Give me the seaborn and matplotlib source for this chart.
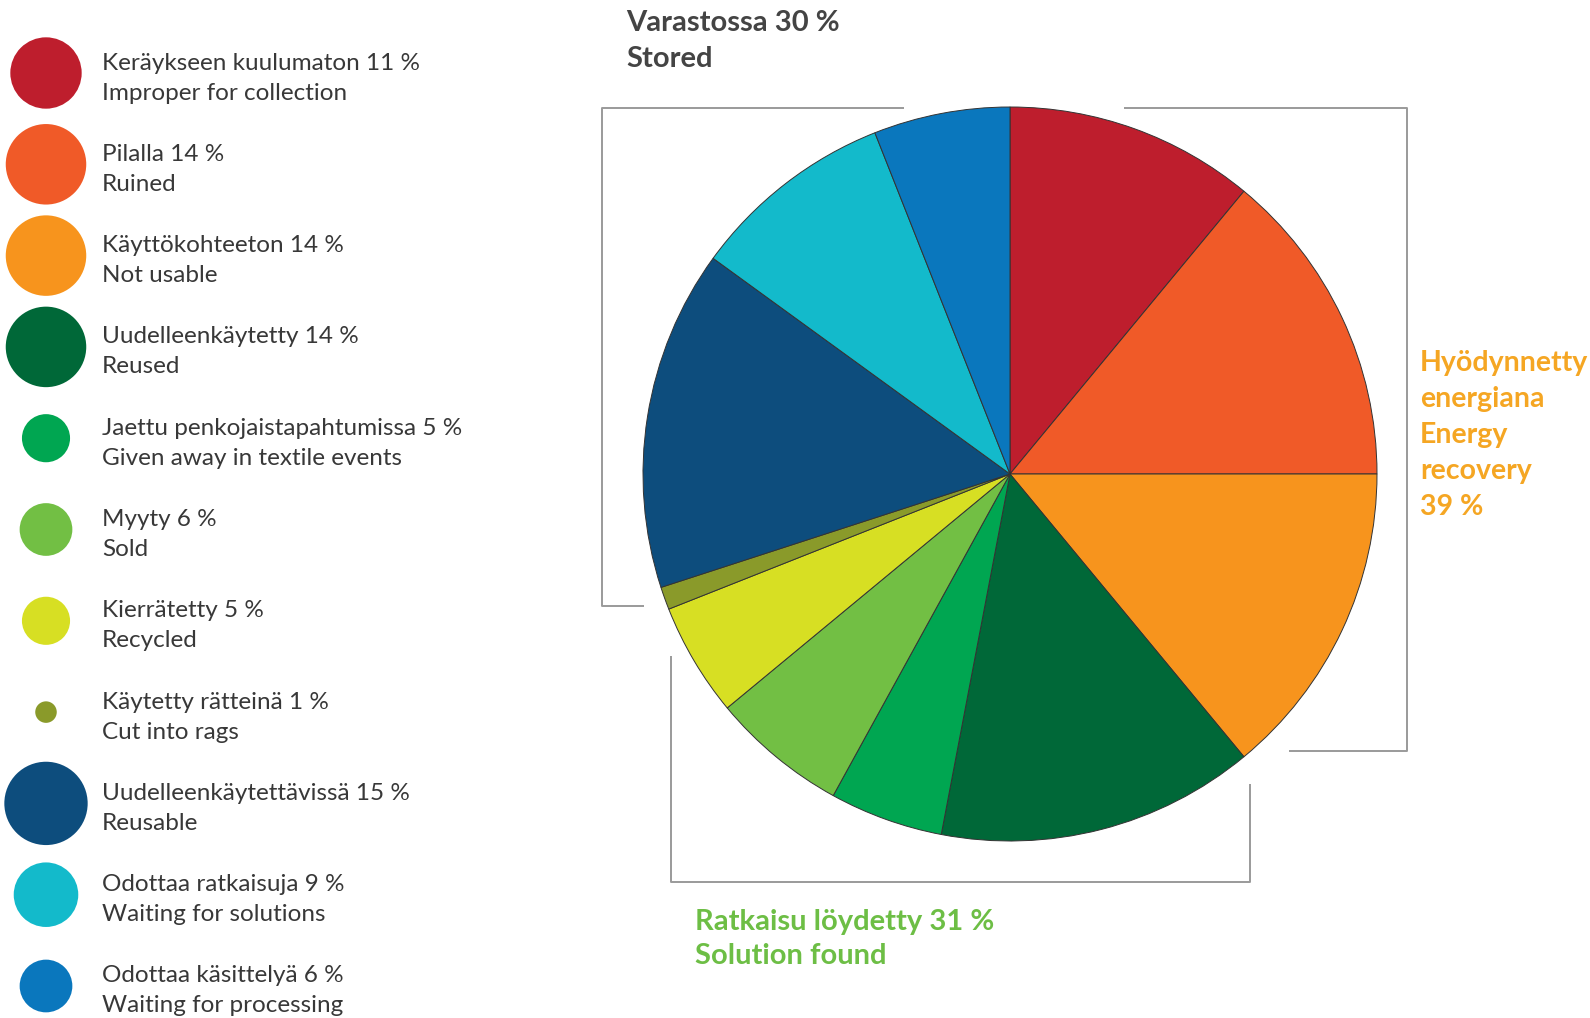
import numpy as np
import pandas as pd
import matplotlib
matplotlib.use("Agg")
import matplotlib.pyplot as plt
import seaborn as sns

# datos
labels_fi = ["Keräykseen kuulumaton", "Pilalla", "Käyttökohteeton", "Uudelleenkäytetty",
             "Jaettu penkojaistapahtumissa", "Myyty", "Kierrätetty", "Käytetty rätteinä",
             "Uudelleenkäytettävissä", "Odottaa ratkaisuja", "Odottaa käsittelyä"]
labels_en = ["Improper for collection", "Ruined", "Not usable", "Reused",
             "Given away in textile events", "Sold", "Recycled", "Cut into rags",
             "Reusable", "Waiting for solutions", "Waiting for processing"]
values = [11, 14, 14, 14, 5, 6, 5, 1, 15, 9, 6]
colors = ["#BE1E2D", "#F05A28", "#F7941D", "#006838", "#00A651", "#72BF44",
          "#D7DF23", "#8A9A2A", "#0D4D7D", "#13BACB", "#0A77BD"]

group_labels = ["Varastossa 30 %\nStored",
                "Hyödynnetty\nenergiana\nEnergy\nrecovery\n39 %",
                "Ratkaisu löydetty 31 %\nSolution found"]
group_colors = ["#444444", "#F5A623", "#6DBE45"]

W, H = 1590, 1018
sns.set_theme(style="white")
plt.rcParams['font.family'] = ['Lato', 'DejaVu Sans']

fig = plt.figure(figsize=(W / 100, H / 100), dpi=100)
ax = fig.add_axes([0, 0, 1, 1])

# piirakka
ax.pie(values, colors=colors, startangle=90, counterclock=False,
       center=(1010, H - 474), radius=367,
       wedgeprops=dict(edgecolor="#333333", linewidth=0.7))

# selite: ympyrät
n = len(values)
row_y = 73 + 91.3 * np.arange(n)
leg = pd.DataFrame({"x": [46] * n, "y": H - row_y, "label": labels_fi, "value": values})
sns.scatterplot(data=leg, x="x", y="y", hue="label", palette=colors, size="value",
                sizes=(240, 3600), size_norm=(1, 15), legend=False, linewidth=0, ax=ax)

txt = "#383838"
for i in range(n):
    ax.text(102, H - (row_y[i] - 10), f"{labels_fi[i]} {values[i]} %", fontsize=17.5,
            color=txt, va="center", ha="left")
    ax.text(102, H - (row_y[i] + 20), labels_en[i], fontsize=17.5,
            color=txt, va="center", ha="left")

# ryhmien hakasulkeet
lc = "#9a9a9a"
lw = 1.4
def line(xs, ys):
    ax.plot(xs, [H - y for y in ys], color=lc, lw=lw, solid_capstyle="butt")

line([904, 602, 602, 644], [107.5, 107.5, 606, 606])
line([1124, 1407, 1407, 1289], [107.5, 107.5, 751, 751])
line([671, 671, 1250, 1250], [656, 882, 882, 784])

# ryhmien otsikot
g1 = group_labels[0].split("\n")
for j, s in enumerate(g1):
    ax.text(626, H - (23 + 36 * j), s, fontsize=21, fontweight="bold",
            color=group_colors[0], va="center", ha="left")
g2 = group_labels[1].split("\n")
for j, s in enumerate(g2):
    ax.text(1420, H - (363 + 36 * j), s, fontsize=20.5, fontweight="bold",
            color=group_colors[1], va="center", ha="left")
g3 = group_labels[2].split("\n")
for j, s in enumerate(g3):
    ax.text(695, H - (922 + 34 * j), s, fontsize=21, fontweight="bold",
            color=group_colors[2], va="center", ha="left")

ax.set_xlim(0, W)
ax.set_ylim(0, H)
ax.set_aspect("equal")
ax.axis("off")
fig.savefig("out.png", dpi=100)
